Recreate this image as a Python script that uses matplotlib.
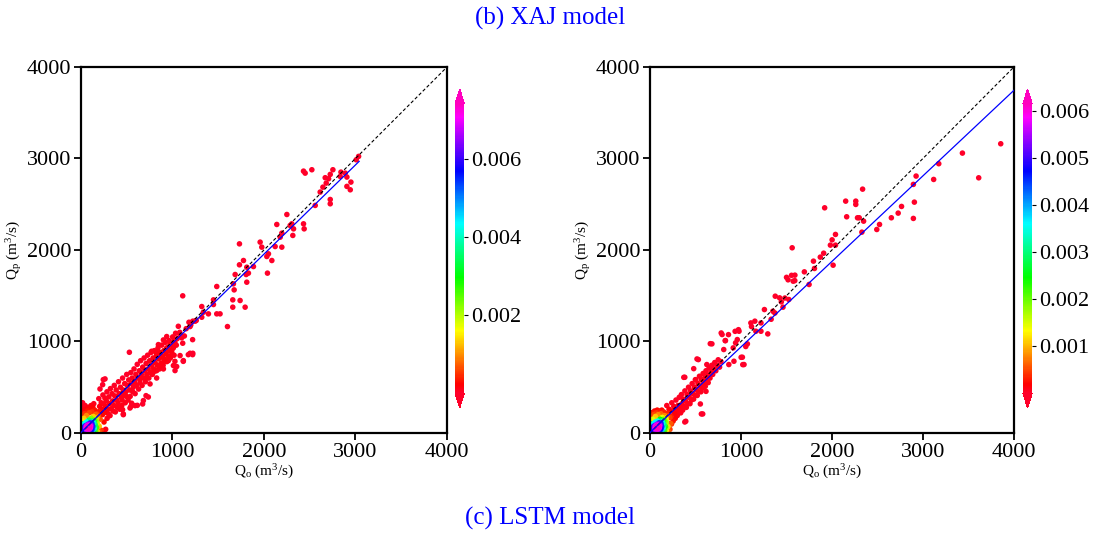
import numpy as np
import matplotlib.pyplot as plt

plt.rc('font', family='Liberation Serif', size=16)
plt.rc('axes', linewidth=1.6)
plt.rcParams['mathtext.fontset'] = 'custom'
plt.rcParams['mathtext.rm'] = 'Liberation Serif'
plt.rcParams['mathtext.it'] = 'Liberation Serif:italic'

# ---- data: (observed, simulated) discharge in m3/s, read from the figure ----
# very dense low-flow peak (same region in both panels)
low_peak = [(55, 35), (60, 40), (65, 30), (70, 45), (75, 40), (80, 35), (85, 50), (60, 55), (70, 50), (75, 60),
            (80, 55), (90, 45), (95, 60), (65, 40), (85, 65), (50, 30), (55, 50), (100, 70), (90, 80), (70, 35),
            (80, 45), (60, 30), (75, 50), (95, 75), (105, 80), (45, 25), (50, 40), (110, 90), (100, 55), (85, 40),
            (65, 50), (70, 65), (78, 62), (88, 58), (58, 45), (68, 38), (92, 68), (82, 72), (72, 48), (62, 62),
            (57, 42), (63, 48), (67, 55), (73, 43), (77, 52), (83, 47), (87, 57), (93, 52), (97, 66), (53, 38),
            (48, 33), (61, 36), (69, 42), (74, 56), (79, 49), (84, 60), (89, 63), (94, 70), (66, 58), (71, 53),
            (76, 45), (81, 58), (86, 53), (91, 61), (59, 50), (64, 44), (103, 76), (99, 64), (108, 85), (115, 95),
            (120, 100), (130, 115), (140, 125), (150, 135), (160, 150), (125, 110), (135, 120), (145, 140),
            (155, 145), (170, 160), (180, 170), (190, 185)]

xaj_core = [(10, 20), (15, 45), (20, 10), (25, 70), (30, 35), (35, 100), (40, 55), (45, 20), (50, 80), (55, 40),
            (60, 120), (65, 65), (70, 25), (75, 95), (80, 50), (85, 140), (90, 75), (95, 30), (100, 110), (105, 60),
            (110, 160), (115, 90), (120, 40), (125, 130), (130, 70), (135, 180), (140, 110), (145, 50), (150, 150),
            (155, 90), (160, 200), (165, 130), (170, 60), (175, 170), (180, 110),
            (5, 60), (10, 100), (12, 140), (8, 190), (15, 240), (20, 290), (18, 330), (30, 160), (40, 210), (50, 260),
            (45, 300), (60, 190), (70, 240), (80, 280), (90, 220), (100, 260), (110, 300), (120, 230), (130, 280),
            (150, 250), (140, 320),
            (60, 5), (80, 10), (100, 15), (120, 10), (140, 20), (160, 25), (180, 15), (200, 10), (220, 30), (150, 5),
            (250, 20), (270, 40), (110, 30), (130, 35),
            (40, 40), (50, 50), (55, 60), (60, 50), (65, 75), (70, 60), (75, 70), (80, 85), (85, 70), (90, 95),
            (95, 85), (45, 35), (35, 30), (50, 65), (60, 80), (70, 85), (100, 100), (110, 115), (120, 105), (80, 70),
            (65, 45), (75, 55), (90, 60), (30, 50), (40, 70)]

xaj_band = [(195, 375), (204, 290), (192, 232), (210, 150), (199, 75), (222, 330), (230, 260),
            (240, 415), (248, 318), (236, 200), (252, 120), (262, 380), (270, 290), (258, 225),
            (284, 450), (278, 350), (292, 260), (286, 160), (300, 210), (305, 395), (312, 320),
            (322, 485), (330, 265), (318, 190), (340, 430), (345, 350), (352, 240),
            (364, 520), (370, 405), (360, 300), (376, 230), (385, 470), (392, 360), (398, 280),
            (410, 560), (418, 430), (405, 330), (424, 260), (432, 500), (440, 390), (446, 300),
            (455, 600), (462, 470), (450, 360), (470, 420), (478, 540), (484, 330), (490, 450),
            (500, 640), (508, 520), (496, 400), (515, 360), (522, 580), (530, 470), (538, 400),
            (545, 660), (552, 540), (560, 600), (566, 450), (572, 500), (580, 700), (586, 560), (592, 430),
            (600, 640), (608, 520), (615, 750), (622, 600), (630, 480), (638, 680), (645, 550),
            (652, 790), (660, 640), (668, 520), (675, 720), (682, 600), (690, 820), (698, 680), (705, 560),
            (712, 760), (720, 640), (728, 850), (735, 700), (742, 600), (750, 790), (758, 660),
            (766, 880), (772, 740), (780, 640), (788, 820), (795, 700), (802, 900), (810, 770), (818, 680),
            (826, 850), (834, 740), (842, 930), (850, 810), (858, 700), (866, 880), (874, 760),
            (882, 960), (890, 840), (898, 740), (906, 900), (914, 800), (922, 990), (930, 870), (938, 780),
            (946, 930), (954, 840), (962, 1010), (970, 900), (978, 820), (986, 960), (994, 870),
            (1002, 1050), (1010, 930), (1018, 850), (1026, 990), (1034, 1090), (1042, 960), (1050, 1030)]

xaj_high = [(3034, 3023), (3008, 2986), (2906, 2797), (2906, 2695), (2950, 2742), (2943, 2658), (2888, 2840),
            (2841, 2851), (2833, 2804), (2753, 2877), (2724, 2826), (2706, 2779), (2669, 2790), (2680, 2731),
            (2644, 2687), (2614, 2633), (2560, 2487), (2724, 2552), (2724, 2505), (2523, 2877), (2432, 2862),
            (2450, 2840), (2250, 2388), (2286, 2268), (2304, 2286), (2315, 2159), (2323, 2231), (2432, 2286),
            (2439, 2231), (2140, 2279), (2195, 2184), (2177, 2140), (2195, 2031), (2122, 2038), (2031, 1929),
            (2049, 1958), (2086, 1885), (2038, 1747), (1958, 2086), (1976, 2031), (1732, 2067), (1732, 1838),
            (1776, 1885), (1812, 1812), (1805, 1732), (1830, 1747), (1812, 1648), (1685, 1732), (1885, 1819),
            (1666, 1630), (1674, 1564), (1659, 1455), (1659, 1375), (1739, 1448), (1794, 1375), (1484, 1601),
            (1448, 1455), (1448, 1404), (1484, 1302), (1520, 1302), (1601, 1163), (1393, 1302), (1320, 1382),
            (1338, 1320), (1320, 1265), (1247, 1222), (1222, 1222), (1192, 1163), (1192, 871), (1222, 871),
            (1112, 1499), (1112, 981), (1119, 791), (1046, 726), (1028, 682), (1083, 846), (901, 1017),
            (937, 1054), (846, 966), (828, 882), (992, 901), (955, 791), (901, 773), (718, 609), (645, 591),
            (711, 408), (682, 354), (554, 325), (591, 299), (536, 273), (463, 208), (529, 882), (263, 591),
            (208, 481), (791, 664), (755, 536), (828, 682), (901, 700), (1010, 737), (171, 208), (736, 393),
            (674, 317), (616, 302), (546, 291), (463, 200), (455, 255), (244, 583), (237, 528), (1027, 783),
            (1118, 783), (1173, 856), (1220, 856), (1220, 1020), (1082, 1075), (1064, 1166), (973, 965),
            (863, 729), (900, 820), (827, 601), (936, 929), (1016, 1009), (772, 893), (820, 882),
            (1080, 1100), (1150, 1140), (1200, 1180), (1260, 1230), (1130, 1060), (1180, 1210), (1100, 1040)]

lstm_core = [(10, 20), (15, 45), (20, 10), (25, 70), (30, 35), (35, 100), (40, 55), (45, 20), (50, 80), (55, 40),
             (60, 120), (65, 65), (70, 25), (75, 95), (80, 50), (85, 130), (90, 75), (95, 30), (100, 110), (105, 60),
             (110, 150), (115, 90), (120, 45), (125, 130), (130, 70), (135, 170), (140, 110), (145, 55), (150, 150),
             (155, 90), (160, 190), (165, 130), (170, 70), (175, 160), (180, 110),
             (5, 60), (10, 100), (12, 140), (8, 180), (15, 220), (30, 150), (40, 200), (50, 240), (60, 180),
             (70, 220), (80, 250), (90, 200), (100, 240), (120, 210), (130, 250), (150, 230),
             (60, 5), (80, 10), (100, 15), (120, 15), (140, 25), (160, 30), (180, 25), (200, 20), (220, 40),
             (110, 30), (130, 35),
             (40, 40), (50, 50), (55, 60), (60, 50), (65, 75), (70, 60), (75, 70), (80, 85), (85, 70), (90, 95),
             (95, 85), (45, 35), (35, 30), (50, 65), (60, 80), (70, 85), (100, 100), (110, 115), (120, 105),
             (80, 70), (65, 45), (75, 55), (90, 60), (30, 50), (40, 70)]

lstm_band = [(185, 300), (192, 215), (180, 140), (198, 70), (210, 260), (218, 170), (225, 105),
             (240, 330), (246, 240), (232, 180), (255, 130), (262, 290), (270, 210), (278, 160),
             (286, 360), (292, 250), (300, 190), (308, 300), (315, 230), (322, 390), (330, 280), (338, 220),
             (346, 420), (352, 320), (360, 250), (368, 370), (376, 290), (384, 460), (392, 350), (400, 280),
             (408, 420), (416, 320), (424, 500), (432, 390), (440, 320), (448, 460), (456, 360),
             (464, 540), (472, 430), (480, 370), (488, 500), (496, 410), (504, 580), (512, 470), (520, 410),
             (528, 540), (536, 450), (544, 620), (552, 510), (560, 450), (568, 580), (576, 490),
             (584, 650), (592, 540), (600, 600), (608, 510), (616, 680), (624, 570), (632, 630), (640, 550),
             (650, 710), (660, 600), (670, 660), (680, 740), (690, 640), (700, 700), (712, 770), (724, 680),
             (736, 740), (750, 800), (765, 720), (780, 780)]

lstm_high = [(3855, 3161), (3434, 3059), (3613, 2789), (3174, 2943), (3118, 2771), (2925, 2808), (2895, 2717),
             (2906, 2523), (2895, 2345), (2765, 2476), (2728, 2403), (2653, 2352), (2523, 2279), (2493, 2224),
             (2337, 2665), (2348, 2315), (2300, 2352), (2281, 2352), (2329, 2195), (2262, 2534), (2262, 2498),
             (2151, 2534), (2162, 2363), (1920, 2461), (2039, 2170), (2039, 2053), (2002, 2111), (1983, 2053),
             (2013, 1834), (1909, 1965), (1872, 1922), (1797, 1878), (1808, 1798), (1697, 1761), (1749, 1623),
             (1563, 2024), (1593, 1725), (1574, 1659), (1518, 1674), (1526, 1459), (1462, 1375), (1444, 1433),
             (1425, 1477), (1377, 1495), (1351, 1331), (1332, 1243), (1295, 1083), (1258, 1349), (1220, 1203),
             (1220, 1112), (1153, 1222), (1164, 1112), (1109, 1203), (1116, 1163), (1071, 974), (1053, 945),
             (1034, 748), (1016, 828), (979, 1112), (960, 1021), (941, 985), (915, 930), (923, 784), (867, 748),
             (830, 1010), (793, 1076), (811, 912), (681, 974), (625, 748), (532, 802), (580, 208), (394, 128),
             (383, 609), (37, 219), (663, 976), (827, 1009), (783, 1093), (517, 809), (372, 608), (1020, 747),
             (1002, 827), (565, 208), (383, 120), (237, 98), (182, 55), (26, 219), (554, 317), (616, 455),
             (610, 546), (499, 583), (481, 703), (936, 1111), (973, 1129), (863, 1075), (1373, 1311),
             (1483, 1475), (1556, 1723), (1592, 1665), (1501, 1701)]

# linear fits (slope, intercept) and their x extent
xaj_fit = (0.975, 5.0)
xaj_fit_x = (0, 3040)
lstm_fit = (0.935, 5.0)
lstm_fit_x = (0, 4000)

# colour scale top of each colour bar
xaj_dens_max = 0.00743
lstm_dens_max = 0.00615
xaj_cbar_ticks = [0.002, 0.004, 0.006]
lstm_cbar_ticks = [0.001, 0.002, 0.003, 0.004, 0.005, 0.006]


def point_density(x, y, bw=75.0):
    dx = (x[:, None] - x[None, :]) / bw
    dy = (y[:, None] - y[None, :]) / bw
    d = np.exp(-0.5 * (dx ** 2 + dy ** 2)).sum(axis=1)
    # the real record has thousands of low-flow days; sharpen the contrast
    return d ** 2


def density_panel(fig, ax_rect, cax_rect, pts, fit, fit_x, dens_max, cticks):
    pts = np.array(pts, dtype=float)
    x, y = pts[:, 0], pts[:, 1]
    z = point_density(x, y)
    z = z / z.max() * dens_max
    idx = z.argsort()
    x, y, z = x[idx], y[idx], z[idx]

    ax = fig.add_axes(ax_rect)
    sc = ax.scatter(x, y, c=z, s=16, cmap='gist_rainbow', vmin=0, vmax=dens_max,
                    edgecolors='none', zorder=2)
    ax.plot([0, 4000], [0, 4000], color='k', ls=(0, (3, 2)), lw=0.8, zorder=3)
    xf = np.array(fit_x, dtype=float)
    ax.plot(xf, fit[0] * xf + fit[1], color='blue', lw=0.9, zorder=3)

    ax.set_xlim(0, 4000)
    ax.set_ylim(0, 4000)
    ax.set_xticks([0, 1000, 2000, 3000, 4000])
    ax.set_yticks([0, 1000, 2000, 3000, 4000])
    ax.tick_params(direction='out', length=5, width=1.3, labelsize=16, pad=2)
    ax.set_xlabel(r'Q$_\mathrm{o}$ (m$^3$/s)', fontsize=11, labelpad=1)
    ax.set_ylabel(r'Q$_\mathrm{p}$ (m$^3$/s)', fontsize=11, labelpad=2)

    cax = fig.add_axes(cax_rect)
    cbar = fig.colorbar(sc, cax=cax, extend='both')
    cbar.outline.set_visible(False)
    cbar.set_ticks(cticks)
    cbar.ax.tick_params(labelsize=16, length=3, width=0.8, pad=2)
    return ax


fig = plt.figure(figsize=(10.94, 5.36), dpi=100)

density_panel(fig, [0.0740, 0.1922, 0.3346, 0.6828], [0.4160, 0.2388, 0.0085, 0.595],
              low_peak + xaj_core + xaj_band + xaj_high, xaj_fit, xaj_fit_x, xaj_dens_max, xaj_cbar_ticks)
density_panel(fig, [0.5941, 0.1922, 0.3327, 0.6828], [0.9350, 0.2388, 0.0085, 0.595],
              low_peak + lstm_core + lstm_band + lstm_high, lstm_fit, lstm_fit_x, lstm_dens_max, lstm_cbar_ticks)

fig.text(0.503, 0.966, '(b) XAJ model', color='blue', ha='center', va='center', fontsize=18)
fig.text(0.503, 0.032, '(c) LSTM model', color='blue', ha='center', va='center', fontsize=18)

fig.savefig('out.png', dpi=100)
